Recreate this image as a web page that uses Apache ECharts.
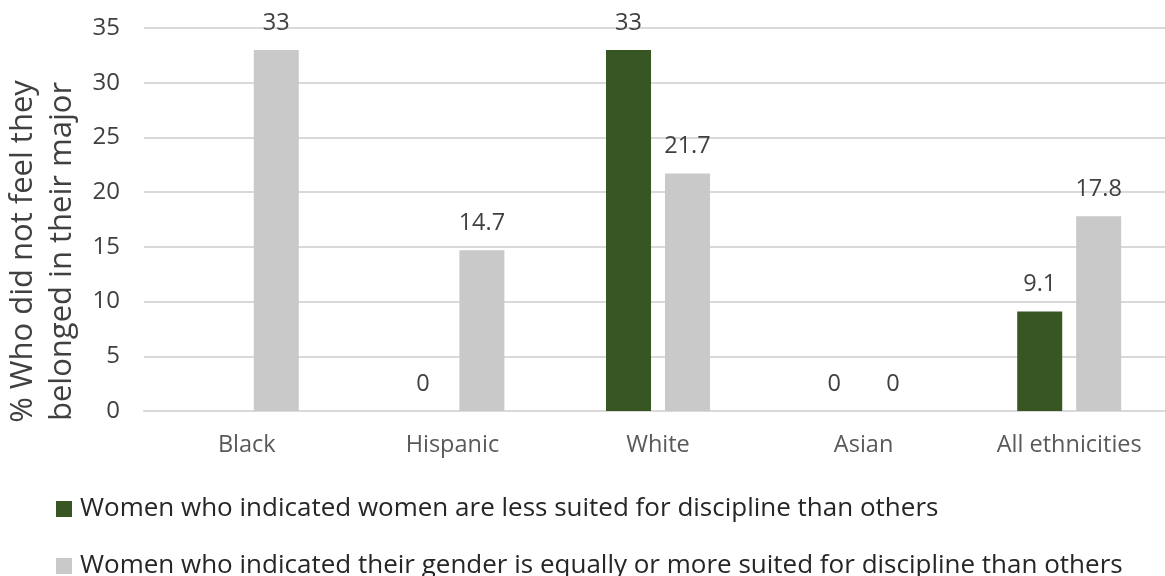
<!DOCTYPE html>
<html>
<head>
<meta charset="utf-8">
<script src="https://cdn.jsdelivr.net/npm/echarts@6/dist/echarts.min.js"></script>
<style>
  html, body { margin: 0; padding: 0; background: #fff; }
  #chart { width: 1165px; height: 576px; }
</style>
</head>
<body>
<div id="chart"></div>
<script>
// Survey results by ethnicity
const categories = ['Black', 'Hispanic', 'White', 'Asian', 'All ethnicities'];
const lessSuited = [null, 0, 33, 0, 9.1];
const equallySuited = [33, 14.7, 21.7, 0, 17.8];
const yTicks = [0, 5, 10, 15, 20, 25, 30, 35];
const seriesNames = [
  'Women who indicated women are less suited for discipline than others',
  'Women who indicated their gender is equally or more suited for discipline than others'
];
const yTitle = '% Who did not feel they\nbelonged in their major';

const FONT = 'Open Sans';
const chart = echarts.init(document.getElementById('chart'));

const labelStyle = {
  show: true,
  position: 'top',
  distance: 15,
  color: '#404040',
  fontFamily: FONT,
  fontSize: 23.5
};

// one legend block per row, stacked under the plot
function legendRow(name, top) {
  return {
    orient: 'vertical',
    left: 56,
    top: top,
    padding: 0,
    itemWidth: 16,
    itemHeight: 16,
    icon: 'rect',
    selectedMode: false,
    textStyle: { color: '#262626', fontFamily: FONT, fontSize: 26, lineHeight: 30, padding: [0, 0, 0, 3] },
    data: [name]
  };
}

chart.setOption({
  animation: false,
  textStyle: { fontFamily: FONT },
  grid: { left: 144, right: -7, top: 28, bottom: 165, outerBoundsMode: 'none' },
  legend: [legendRow(seriesNames[0], 494), legendRow(seriesNames[1], 551)],
  xAxis: {
    type: 'category',
    data: categories,
    axisLine: { show: true, lineStyle: { color: '#d9d9d9', width: 2 } },
    axisTick: { show: false },
    axisLabel: { color: '#595959', fontFamily: FONT, fontSize: 23.5, margin: 22 }
  },
  yAxis: {
    type: 'value',
    min: yTicks[0],
    max: yTicks[yTicks.length - 1],
    interval: 5,
    name: yTitle,
    nameLocation: 'middle',
    nameRotate: 90,
    nameGap: 61,
    nameTextStyle: {
      color: '#404040', fontFamily: FONT, fontSize: 31, lineHeight: 39,
      padding: [0, 64, 0, 0]
    },
    axisLine: { show: false },
    axisTick: { show: false },
    axisLabel: { color: '#404040', fontFamily: FONT, fontSize: 24, margin: 24 },
    splitLine: { lineStyle: { color: '#d9d9d9', width: 2 } }
  },
  series: [
    {
      name: seriesNames[0],
      type: 'bar',
      data: lessSuited,
      barWidth: 45,
      barGap: '31%',
      itemStyle: { color: '#375623' },
      label: labelStyle
    },
    {
      name: seriesNames[1],
      type: 'bar',
      data: equallySuited,
      barWidth: 45,
      barGap: '31%',
      itemStyle: { color: '#c9c9c9' },
      label: labelStyle
    }
  ]
});
</script>
</body>
</html>
